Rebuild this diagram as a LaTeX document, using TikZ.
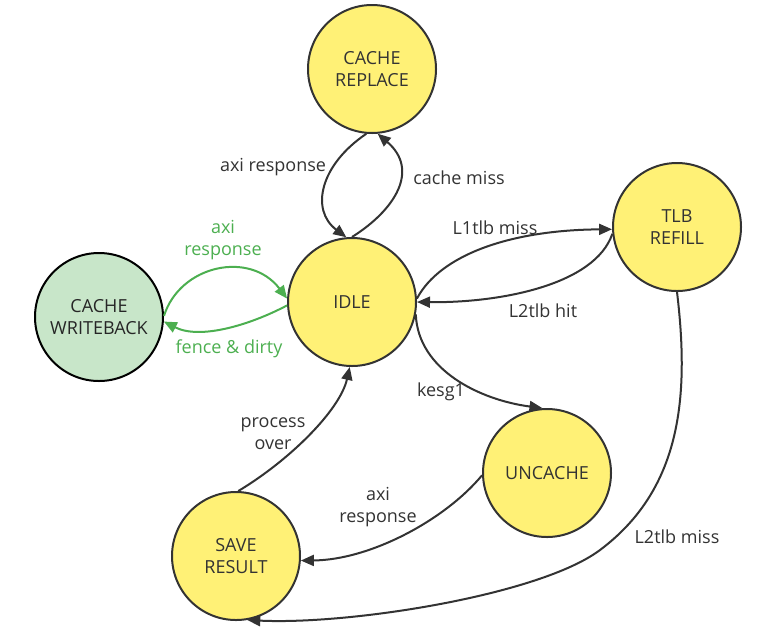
\documentclass[tikz,border=0pt]{standalone}
\usepackage{fontspec}
\setmainfont{Open Sans}
\usetikzlibrary{arrows.meta}
\definecolor{yfill}{HTML}{FFF176}
\definecolor{gfill}{HTML}{C8E6C9}
\definecolor{ink}{HTML}{333333}
\definecolor{grn}{HTML}{4CAF50}
\begin{document}
\begin{tikzpicture}[x=1pt,y=-1pt,
  state/.style={circle, draw=ink, line width=2pt, fill=yfill, minimum size=128pt,
    inner sep=0pt, align=center, text=ink, font=\fontsize{18}{22}\selectfont},
  wbstate/.style={state, fill=gfill, draw=black, text=black!85},
  edge/.style={draw=ink, line width=2pt, -{Triangle[length=13pt,width=11pt]}},
  gedge/.style={edge, draw=grn},
  lbl/.style={text=ink, align=center, font=\fontsize{18}{22}\selectfont},
  glbl/.style={lbl, text=grn}]
\useasboundingbox (0,0) rectangle (773,630);

\node[state] (cr) at (372,69) {CACHE\\REPLACE};
\node[state] (idle) at (352,302) {IDLE};
\node[wbstate] (cw) at (99,317) {CACHE\\WRITEBACK};
\node[state] (tlb) at (677,227) {TLB\\REFILL};
\node[state] (unc) at (547,473) {UNCACHE};
\node[state] (save) at (236,556) {SAVE\\RESULT};

% IDLE <-> CACHE REPLACE
\draw[edge] (idle.north) .. controls (395,210) and (420,170) .. (cr.-85);
\draw[edge] (cr.-95) .. controls (320,165) and (310,210) .. (idle.95);
% IDLE <-> TLB
\draw[edge] (idle.3) .. controls (440,255) and (510,230) .. (tlb.182);
\draw[edge] (tlb.186) .. controls (595,285) and (500,303) .. (idle.0);
% IDLE -> UNCACHE
\draw[edge] (idle.-11) .. controls (418,370) and (480,400) .. (unc.94);
% UNCACHE -> SAVE
\draw[edge] (unc.182) .. controls (445,520) and (370,560) .. (save.-4);
% SAVE -> IDLE
\draw[edge] (save.88) .. controls (290,460) and (340,410) .. (idle.-92);
% TLB -> SAVE
\draw[edge] (tlb.south) .. controls (690,400) and (680,490) .. (600,550)
  .. controls (540,595) and (350,625) .. (save.-80);
% IDLE <-> CACHE WRITEBACK
\draw[gedge] (idle.183) .. controls (250,325) and (200,340) .. (cw.-4);
\draw[gedge] (cw.1) .. controls (180,265) and (250,250) .. (idle.177);

% labels
\node[lbl] (l1) at (273,167) {axi response};
\node[lbl] (l2) at (459,178) {cache miss};
\node[lbl] (l3) at (495,228) {L1tlb miss};
\node[lbl] (l4) at (543,311) {L2tlb hit};
\node[lbl] (l5) at (441,392) {kesg1};
\node[lbl] (l6) at (273,434) {process\\over};
\node[lbl] (l7) at (378,507) {axi\\response};
\node[lbl] (l8) at (677,537) {L2tlb miss};
\node[glbl] (l9) at (223,240) {axi\\response};
\node[glbl] (l10) at (229,349) {fence \& dirty};
\end{tikzpicture}
\end{document}
